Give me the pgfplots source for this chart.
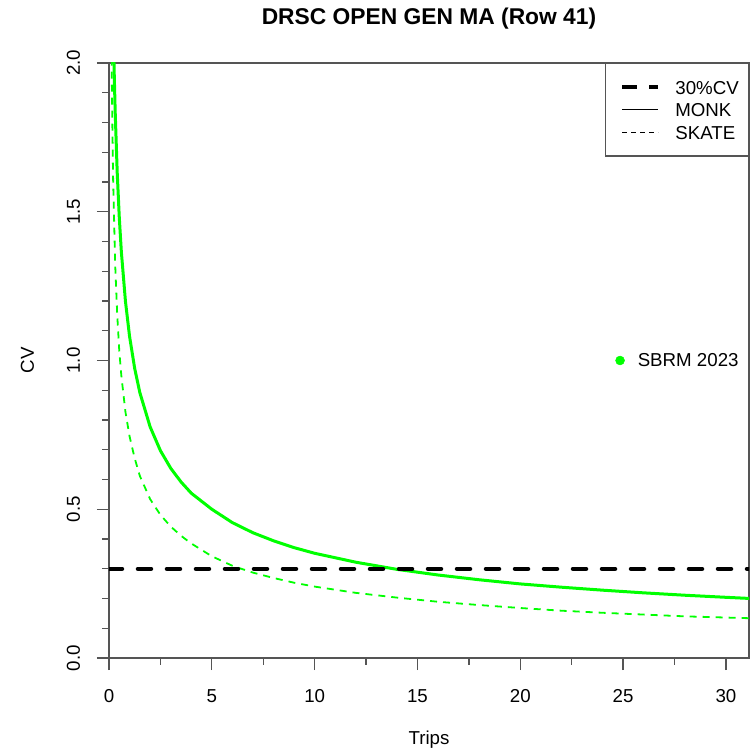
\documentclass[border=0pt]{standalone}
\usepackage{fontspec}
\setmainfont{Liberation Sans}
\usepackage{pgfplots}
\pgfplotsset{compat=1.18}
\definecolor{rgreen}{RGB}{0,255,0}
\definecolor{axgray}{RGB}{85,85,85}
\begin{document}
\begin{tikzpicture}[font=\fontsize{18.7}{22.4}\selectfont]
\useasboundingbox (-109pt,-97pt) rectangle (641pt,658pt);
\begin{axis}[
  scale only axis, width=640pt, height=595pt,
  xmin=0, xmax=31.12, ymin=0, ymax=2,
  xtick={0,5,...,30}, ytick={0,0.5,1,1.5,2},
  minor x tick num=1, minor y tick num=4,
  tick align=outside, tick pos=left,
  major tick length=12pt, minor tick length=6.5pt,
  axis line style={axgray, line width=1.3pt},
  tick style={axgray, line width=1.3pt},
  /pgf/number format/assume math mode=true,
  yticklabel style={rotate=90, anchor=base, /pgf/number format/fixed, /pgf/number format/precision=1, /pgf/number format/fixed zerofill},
  xticklabel style={anchor=base},
  xticklabel shift=32pt, yticklabel shift=17pt,
  xlabel={Trips}, ylabel={CV},
  xlabel style={at={(axis description cs:0.5,-0.1462)}, anchor=base},
  ylabel style={at={(axis description cs:-0.1172,0.5)}, anchor=base},
  title={DRSC OPEN GEN MA (Row 41)},
  title style={at={(0.5,1)}, anchor=base, yshift=32pt, font=\bfseries\fontsize{22.8}{27}\selectfont},
  legend style={at={(1,1)}, anchor=north east, draw=axgray, line width=1.3pt, fill=white,
    inner xsep=15pt, inner ysep=17pt, row sep=9.1pt,
    nodes={inner sep=0pt, text height=13.4pt, text depth=0pt, text width=58pt},
    /tikz/every odd column/.append style={column sep=15pt}},
  legend cell align=left,
  legend image code/.code={\draw[#1] (0pt,0pt) -- (36pt,0pt);},
]
\addlegendimage{black, line width=4pt, dash pattern=on 15pt off 12pt}
\addlegendentry{30\%CV}
\addlegendimage{black, line width=1.2pt}
\addlegendentry{MONK}
\addlegendimage{black, line width=1.2pt, dash pattern=on 5pt off 4pt}
\addlegendentry{SKATE}

\addplot[rgreen, line width=3pt, forget plot] coordinates {
(0.2,2.152) (0.25,1.976) (0.3,1.838) (0.4,1.631) (0.5,1.481) (0.6,1.366) (0.8,1.199) (1,1.081) (1.25,0.973) (1.5,0.892) (2,0.777) (2.5,0.697) (3,0.638) (3.5,0.592) (4,0.554) (5,0.500) (6,0.455) (7,0.421) (8,0.394) (9,0.371) (10,0.352) (12,0.322) (14,0.298) (16,0.279) (18,0.263) (20,0.249) (22,0.238) (24,0.228) (26,0.219) (28,0.211) (30,0.204) (31.5,0.199)
};
\addplot[rgreen, line width=1.8pt, dash pattern=on 7pt off 6pt, forget plot] coordinates {
(0.1,2.277) (0.13,1.997) (0.15,1.859) (0.2,1.61) (0.3,1.324) (0.4,1.154) (0.5,1.032) (0.6,0.949) (0.8,0.827) (1,0.745) (1.25,0.671) (1.5,0.612) (2,0.534) (2.5,0.481) (3,0.442) (3.5,0.411) (4,0.385) (5,0.342) (6,0.310) (7,0.287) (8,0.269) (9,0.253) (10,0.240) (12,0.219) (14,0.203) (16,0.189) (18,0.178) (20,0.168) (22,0.159) (24,0.152) (26,0.146) (28,0.140) (30,0.136) (31.5,0.133)
};
\addplot[black, line width=4.5pt, line cap=round, dash pattern=on 13pt off 16pt, forget plot] coordinates {(0,0.3) (31.12,0.3)};
\addplot[only marks, mark=*, mark size=4.5pt, rgreen, forget plot,
  nodes near coords={SBRM 2023},
  every node near coord/.append style={anchor=west, text=black, inner sep=0pt, xshift=17.5pt, font=\fontsize{18.7}{22.4}\selectfont}]
  coordinates {(24.85,1.0)};
\end{axis}
\end{tikzpicture}
\end{document}
